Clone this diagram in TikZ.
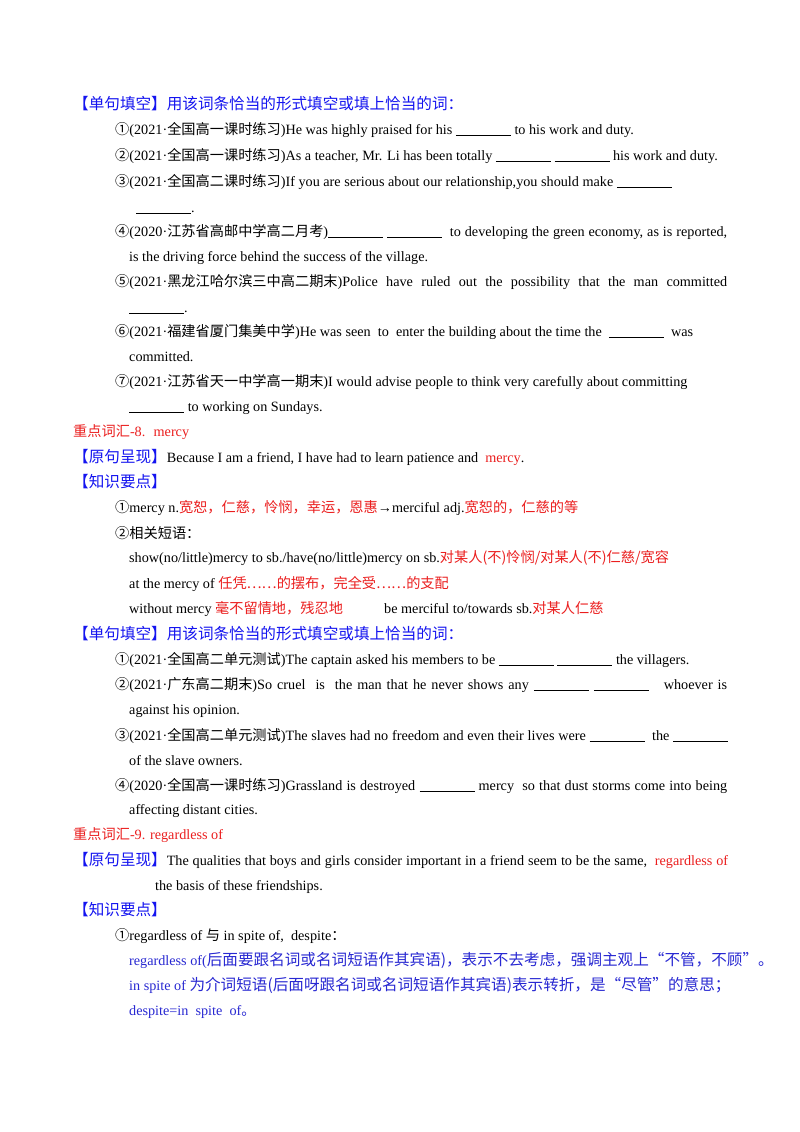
\documentclass[tikz,border=0pt]{standalone}
\usepackage{fontspec}
\setmainfont{Liberation Serif}
\newfontfamily\cjkf{Noto Sans CJK SC}
\newcommand\cj[1]{{\cjkf\fontsize{14.2}{16}\selectfont #1}}
\newcommand\cjh[1]{{\cjkf\fontsize{15.6}{17}\selectfont #1}}
\newcommand\bl{\rule[-1.5pt]{55pt}{0.5pt}}
\definecolor{hblue}{RGB}{20,20,240}
\definecolor{tblue}{RGB}{40,40,210}
\definecolor{hred}{RGB}{235,30,30}
\newcommand\R[1]{\textcolor{hred}{#1}}
\newcommand\B[1]{\textcolor{hblue}{#1}}
\newcommand\J[2]{\makebox[#1pt][s]{#2}}
\begin{document}
\begin{tikzpicture}[x=1pt,y=1pt,
  tl/.style={anchor=base west,inner sep=0pt,font=\fontsize{14.2}{16}\selectfont}]
\useasboundingbox (0,0) rectangle (800,-1132);
\fill[white] (0,0) rectangle (800,-1132);
\node[tl] (h1) at (73,-109) {\B{\cjh{【单句填空】用该词条恰当的形式填空或填上恰当的词：}}};
\node[tl] (a1) at (115,-134) {\cj{①}(2021·\cj{全国高一课时练习})He was highly praised for his \bl\ to his work and duty.};
\node[tl] (a2) at (115,-160) {\cj{②}(2021·\cj{全国高一课时练习})As a teacher, Mr. Li has been totally \bl\ \bl\ his work and duty.};
\node[tl] (a3) at (115,-186) {\cj{③}(2021·\cj{全国高二课时练习})If you are serious about our relationship,you should make \bl};
\node[tl] (a3b) at (136,-212) {\bl.};
\node[tl] (a4) at (115,-236) {\J{612}{\cj{④}(2020·\cj{江苏省高邮中学高二月考})\bl\ \bl\ \ to developing the green economy, as is reported,}};
\node[tl] (a4b) at (129,-261) {is the driving force behind the success of the village.};
\node[tl] (a5) at (115,-286) {\J{612}{\cj{⑤}(2021·\cj{黑龙江哈尔滨三中高二期末})Police have ruled out the possibility that the man committed}};
\node[tl] (a5b) at (129,-312) {\bl.};
\node[tl] (a6) at (115,-336) {\cj{⑥}(2021·\cj{福建省厦门集美中学})He was seen \ to \ enter the building about the time the \ \bl\ \ was};
\node[tl] (a6b) at (129,-361) {committed.};
\node[tl] (a7) at (115,-386) {\cj{⑦}(2021·\cj{江苏省天一中学高一期末})I would advise people to think very carefully about committing};
\node[tl] (a7b) at (129,-411) {\bl\ to working on Sundays.};
\node[tl] (k8) at (73,-436) {\R{\cj{重点词汇}-8. \ mercy}};
\node[tl] (y8) at (73,-462) {\B{\cjh{【原句呈现】}}Because I am a friend, I have had to learn patience and \ \R{mercy}.};
\node[tl] (z8) at (73,-487) {\B{\cjh{【知识要点】}}};
\node[tl] (b1) at (115,-512) {\cj{①}mercy n.\R{\cj{宽恕，仁慈，怜悯，幸运，恩惠}}→merciful adj.\R{\cj{宽恕的，仁慈的等}}};
\node[tl] (b2) at (115,-538) {\cj{②相关短语：}};
\node[tl] (b3) at (129,-562) {show(no/little)mercy to sb./have(no/little)mercy on sb.\R{\cj{对某人(不)怜悯/对某人(不)仁慈/宽容}}};
\node[tl] (b4) at (129,-588) {at the mercy of \R{\cj{任凭……的摆布，完全受……的支配}}};
\node[tl] (b5) at (129,-613) {without mercy \R{\cj{毫不留情地，残忍地}}};
\node[tl] (b6) at (384,-613) {be merciful to/towards sb.\R{\cj{对某人仁慈}}};
\node[tl] (h2) at (73,-639) {\B{\cjh{【单句填空】用该词条恰当的形式填空或填上恰当的词：}}};
\node[tl] (c1) at (115,-664) {\cj{①}(2021·\cj{全国高二单元测试})The captain asked his members to be \bl\ \bl\ the villagers.};
\node[tl] (c2) at (115,-689) {\J{612}{\cj{②}(2021·\cj{广东高二期末})So cruel \ is \ the man that he never shows any \bl\ \bl\ \ \ whoever is}};
\node[tl] (c2b) at (129,-714) {against his opinion.};
\node[tl] (c3) at (115,-740) {\J{613}{\cj{③}(2021·\cj{全国高二单元测试})The slaves had no freedom and even their lives were \bl\ \ the \bl}};
\node[tl] (c3b) at (129,-765) {of the slave owners.};
\node[tl] (c4) at (115,-790) {\J{612}{\cj{④}(2020·\cj{全国高一课时练习})Grassland is destroyed \bl\ mercy \ so that dust storms come into being}};
\node[tl] (c4b) at (129,-814) {affecting distant cities.};
\node[tl] (k9) at (73,-839) {\R{\cj{重点词汇}-9. regardless of}};
\node[tl] (y9) at (73,-865) {\J{655}{\B{\cjh{【原句呈现】}}The qualities that boys and girls consider important in a friend seem to be the same, \ \R{regardless of}}};
\node[tl] (y9b) at (155,-890) {the basis of these friendships.};
\node[tl] (z9) at (73,-915) {\B{\cjh{【知识要点】}}};
\node[tl] (d1) at (115,-940) {\cj{①}regardless of \cj{与} in spite of, \ despite\cj{：}};
\node[tl] (d2) at (129,-965) {\color{tblue}regardless of(\cjh{后面要跟名词或名词短语作其宾语)，表示不去考虑，强调主观上“不管，不顾”。}};
\node[tl] (d3) at (129,-990) {\color{tblue}in spite of \cjh{为介词短语(后面呀跟名词或名词短语作其宾语)表示转折，是“尽管”的意思；}};
\node[tl] (d4) at (129,-1015) {\color{tblue}despite=in \ spite \ of\cj{。}};
\end{tikzpicture}
\end{document}
